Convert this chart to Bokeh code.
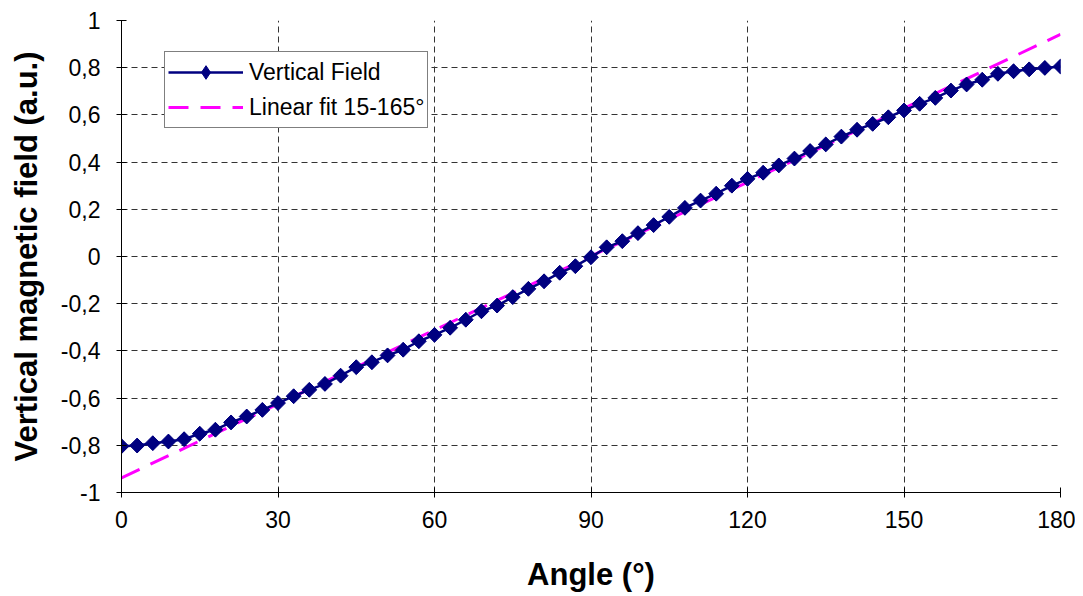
import math
from bokeh.plotting import figure
from bokeh.models import (FixedTicker, CustomJSTickFormatter, Legend, LegendItem, Range1d,
                          ColumnDataSource)
from bokeh.embed import file_html
from bokeh.resources import INLINE

# ---- data ----
angle = [0, 3, 6, 9, 12, 15, 18, 21, 24, 27, 30, 33, 36, 39, 42, 45, 48, 51, 54, 57,
         60, 63, 66, 69, 72, 75, 78, 81, 84, 87, 90, 93, 96, 99, 102, 105, 108, 111, 114,
         117, 120, 123, 126, 129, 132, 135, 138, 141, 144, 147, 150, 153, 156, 159, 162,
         165, 168, 171, 174, 177, 180]
vertical_field = [-0.804, -0.801, -0.791, -0.784, -0.774, -0.751, -0.734, -0.703, -0.678, -0.650,
                  -0.621, -0.592, -0.565, -0.540, -0.505, -0.469, -0.448, -0.419, -0.395, -0.359,
                  -0.332, -0.302, -0.268, -0.232, -0.208, -0.172, -0.137, -0.105, -0.069, -0.041,
                  -0.003, 0.039, 0.065, 0.099, 0.133, 0.168, 0.206, 0.237, 0.266,
                  0.300, 0.329, 0.355, 0.386, 0.415, 0.447, 0.475, 0.508, 0.537, 0.562, 0.590,
                  0.619, 0.647, 0.672, 0.703, 0.729, 0.749, 0.774, 0.785, 0.793, 0.799, 0.805]
fit_angle = [0, 180]
fit_value = [-0.938, 0.941]

x_ticks = [0, 30, 60, 90, 120, 150, 180]
y_ticks = [-1, -0.8, -0.6, -0.4, -0.2, 0, 0.2, 0.4, 0.6, 0.8, 1]
y_tick_labels = ["-1", "-0,8", "-0,6", "-0,4", "-0,2", "0", "0,2", "0,4", "0,6", "0,8", "1"]

FONT = "Liberation Sans"

src = ColumnDataSource(data=dict(x=angle, y=vertical_field))

p = figure(width=1075, height=596, output_backend="svg", toolbar_location=None,
           x_range=Range1d(0, 180), y_range=Range1d(-1, 1),
           min_border_left=121, min_border_right=15, min_border_top=20, min_border_bottom=104)
p.outline_line_color = None
p.background_fill_color = "white"
p.border_fill_color = "white"

# grid
for g in (p.xgrid, p.ygrid):
    g.grid_line_color = "#333333"
    g.grid_line_dash = "6 4"
    g.grid_line_width = 1
p.xgrid.ticker = FixedTicker(ticks=x_ticks)
p.ygrid.ticker = FixedTicker(ticks=y_ticks)

# axes
p.xaxis.ticker = FixedTicker(ticks=x_ticks)
p.yaxis.ticker = FixedTicker(ticks=y_ticks)
p.yaxis.formatter = CustomJSTickFormatter(
    args=dict(yvals=y_ticks, ylabs=y_tick_labels),
    code="const i = yvals.findIndex(t => Math.abs(t - tick) < 1e-9); return i >= 0 ? ylabs[i] : '';")
for ax in (p.xaxis, p.yaxis):
    ax.axis_line_color = "black"
    ax.axis_line_width = 1
    ax.major_tick_line_color = "black"
    ax.major_tick_in = 5
    ax.major_tick_out = 5
    ax.minor_tick_line_color = None
    ax.major_label_text_font = FONT
    ax.major_label_text_font_size = "23px"
    ax.major_label_text_color = "black"
    ax.axis_label_text_font = FONT
    ax.axis_label_text_font_size = "31px"
    ax.axis_label_text_font_style = "bold"
    ax.axis_label_text_color = "black"
p.xaxis.major_label_standoff = 13
p.yaxis.major_label_standoff = 16
p.xaxis.axis_label = "Angle (°)"
p.yaxis.axis_label = "Vertical magnetic field (a.u.)"
p.xaxis.axis_label_standoff = 26
p.yaxis.axis_label_standoff = 14

# series
fit = p.line(fit_angle, fit_value, line_color="#FF00FF", line_width=3, line_dash="20 12")
ln = p.line("x", "y", source=src, line_color="#000080", line_width=2.5)
# diamond marker (used for the legend swatch); fully covered by the rotated squares on top
leg_pts = p.scatter("x", "y", source=src, marker="diamond", size=14,
                    fill_color="#000080", line_color="#000080")
pts = p.scatter("x", "y", source=src, marker="square", size=10.5, angle=math.pi / 4,
                fill_color="#000080", line_color="#000080")

legend = Legend(items=[LegendItem(label="Vertical Field", renderers=[ln, leg_pts]),
                       LegendItem(label="Linear fit 15-165°", renderers=[fit])],
                location=(43, 364))
legend.label_text_font = FONT
legend.label_text_font_size = "23px"
legend.label_text_color = "black"
legend.glyph_width = 75
legend.glyph_height = 34
legend.label_height = 34
legend.label_standoff = 6
legend.padding = 3
legend.spacing = 1
legend.border_line_color = "black"
legend.border_line_width = 1
legend.background_fill_color = "white"
legend.background_fill_alpha = 1
legend.margin = 0
p.add_layout(legend, "center")

open("out.html", "w").write(file_html(p, INLINE))
